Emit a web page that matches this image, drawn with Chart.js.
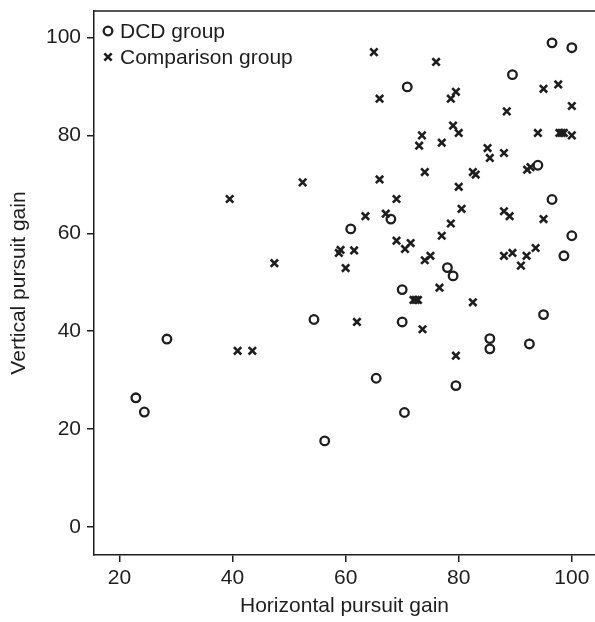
<!DOCTYPE html>
<html>
<head>
<meta charset="utf-8">
<script src="https://cdn.jsdelivr.net/npm/chart.js@4/dist/chart.umd.min.js"></script>
<style>
html,body{margin:0;padding:0;background:#fff;overflow:hidden;}
#wrap{width:595px;height:622px;position:relative;}
canvas{display:block;}
</style>
</head>
<body>
<div id="wrap"><canvas id="c" width="595" height="622"></canvas></div>
<script>
// DCD group (circles)
const dcdX = [22.9, 24.4, 28.4, 54.4, 56.3, 60.9, 65.4, 68.0, 70.0, 70.0, 70.4, 70.9, 78.0, 79.0, 79.5, 85.5, 85.5, 89.5, 94.0, 95.0, 96.5, 96.5, 98.6, 100.0, 100.0, 92.5];
const dcdY = [26.4, 23.5, 38.4, 42.4, 17.6, 60.9, 30.4, 62.9, 48.5, 41.9, 23.4, 89.9, 53.0, 51.3, 28.9, 38.5, 36.4, 92.4, 73.9, 43.4, 66.9, 98.9, 55.4, 59.5, 97.9, 37.4];
// Comparison group (crosses)
const compX = [39.5, 40.9, 43.5, 47.4, 52.4, 58.8, 59.1, 60.0, 61.5, 62.0, 63.5, 65.0, 66.0, 66.0, 67.1, 69.0, 69.0, 70.5, 71.5, 72.0, 72.4, 72.8, 73.0, 73.5, 73.6, 74.0, 74.0, 75.0, 76.0, 76.6, 77.0, 77.0, 78.6, 78.6, 79.0, 79.5, 79.5, 80.0, 80.0, 80.5, 82.5, 83.0, 82.5, 85.1, 85.5, 88.0, 88.0, 88.0, 88.5, 89.0, 89.5, 91.0, 92.0, 92.1, 92.7, 93.6, 94.0, 95.0, 95.0, 97.6, 97.8, 98.2, 98.6, 100.0, 100.0];
const compY = [67.0, 36.0, 36.0, 53.9, 70.4, 56.0, 56.6, 52.9, 56.5, 41.9, 63.5, 97.0, 87.5, 71.0, 64.0, 67.0, 58.5, 56.8, 58.0, 46.4, 46.4, 46.4, 77.9, 80.0, 40.4, 72.5, 54.5, 55.4, 95.0, 48.9, 78.5, 59.5, 87.5, 62.0, 82.0, 88.9, 35.0, 69.5, 80.5, 65.0, 72.5, 72.0, 45.9, 77.4, 75.4, 64.5, 55.4, 76.4, 84.9, 63.5, 56.0, 53.4, 55.4, 73.0, 73.5, 57.0, 80.5, 89.5, 62.9, 90.4, 80.5, 80.5, 80.5, 86.0, 80.0];

const xTicks = [20, 40, 60, 80, 100];
const yTicks = [0, 20, 40, 60, 80, 100];
const seriesNames = ['DCD group', 'Comparison group'];
const xTitle = 'Horizontal pursuit gain';
const yTitle = 'Vertical pursuit gain';

const INK = '#1e1e1e';
const FONT = 'Liberation Sans, Arial, Helvetica, sans-serif';
const FS = 21;

function pts(xs, ys){ return xs.map((x,i)=>({x:x, y:ys[i]})); }

const overlay = {
  id: 'overlay',
  afterDraw(chart){
    const ctx = chart.ctx, a = chart.chartArea;
    ctx.save();
    // top frame line
    ctx.strokeStyle = INK; ctx.lineWidth = 1.5;
    ctx.beginPath(); ctx.moveTo(a.left, a.top); ctx.lineTo(a.right, a.top); ctx.stroke();
    // legend
    const ds = chart.data.datasets;
    const rows = [31, 57];
    const mx = a.left + 14;
    ds.forEach((d, i) => {
      ctx.strokeStyle = INK; ctx.fillStyle = '#fff'; ctx.lineWidth = d.borderWidth;
      ctx.beginPath();
      if (d.pointStyle === 'circle') {
        ctx.arc(mx, rows[i], d.pointRadius, 0, Math.PI*2);
        ctx.fill(); ctx.stroke();
      } else {
        const o = d.pointRadius * Math.SQRT1_2;
        ctx.moveTo(mx - o, rows[i] - o); ctx.lineTo(mx + o, rows[i] + o);
        ctx.moveTo(mx - o, rows[i] + o); ctx.lineTo(mx + o, rows[i] - o);
        ctx.stroke();
      }
      ctx.fillStyle = INK;
      ctx.font = FS + 'px ' + FONT;
      ctx.textAlign = 'left'; ctx.textBaseline = 'middle';
      ctx.fillText(d.label, a.left + 26, rows[i] + 1);
    });
    ctx.restore();
  }
};

new Chart(document.getElementById('c'), {
  type: 'scatter',
  data: {
    datasets: [
      {
        label: seriesNames[0], data: pts(dcdX, dcdY),
        pointStyle: 'circle', pointRadius: 4.3, pointHoverRadius: 4.3,
        borderWidth: 2.3, borderColor: INK, backgroundColor: 'rgba(255,255,255,0)'
      },
      {
        label: seriesNames[1], data: pts(compX, compY),
        pointStyle: 'crossRot', pointRadius: 5.2, pointHoverRadius: 5.2,
        borderWidth: 2.6, borderColor: INK, backgroundColor: INK
      }
    ]
  },
  options: {
    responsive: false, animation: false,
    layout: { autoPadding: false, padding: { top: 11, right: 0, bottom: 0, left: 0 } },
    plugins: { legend: { display: false }, tooltip: { enabled: false } },
    scales: {
      x: {
        type: 'linear', min: 15.5, max: 104.1,
        afterBuildTicks: s => { s.ticks = xTicks.map(v => ({value: v})); },
        afterFit: s => { s.height = 67; s.paddingLeft = 0; s.paddingRight = 0; },
        grid: { drawOnChartArea: false, drawTicks: true, tickLength: 7, color: INK, lineWidth: 1.5 },
        border: { display: true, color: INK, width: 1.5 },
        ticks: { color: INK, font: { family: FONT, size: FS }, padding: 4, maxRotation: 0 },
        title: { display: true, text: xTitle, color: INK, font: { family: FONT, size: FS }, padding: { top: 0, bottom: 3 } }
      },
      y: {
        type: 'linear', min: -5.7, max: 105.4,
        afterBuildTicks: s => { s.ticks = yTicks.map(v => ({value: v})); },
        afterFit: s => { s.width = 94; s.paddingTop = 0; s.paddingBottom = 0; },
        grid: { drawOnChartArea: false, drawTicks: true, tickLength: 7, color: INK, lineWidth: 1.5 },
        border: { display: true, color: INK, width: 1.5 },
        ticks: { color: INK, font: { family: FONT, size: FS }, padding: 6 },
        title: { display: true, text: yTitle, color: INK, font: { family: FONT, size: FS }, padding: { top: 7, bottom: 0 } }
      }
    }
  },
  plugins: [overlay]
});
</script>
</body>
</html>
